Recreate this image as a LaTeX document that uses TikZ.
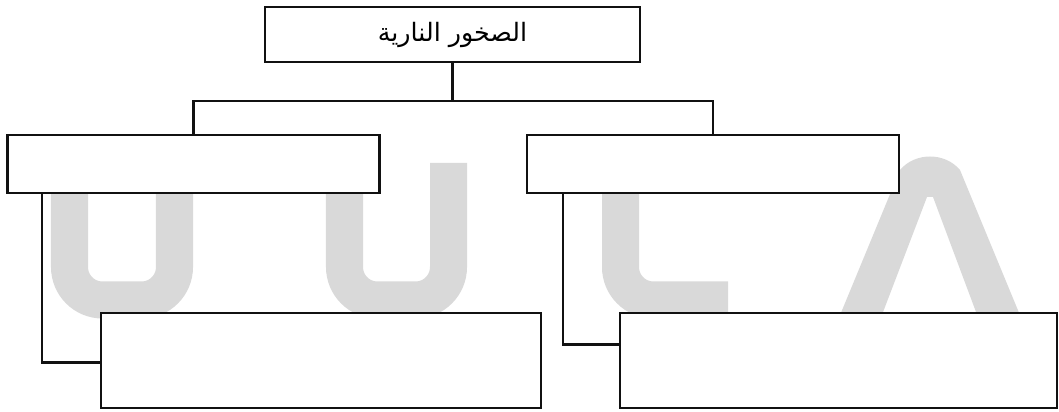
\documentclass[tikz,border=0pt]{standalone}
\usepackage{fontspec}
\usepackage{tikz}
\usetikzlibrary{positioning, calc}
\newfontfamily\arabicfont[Script=Arabic]{DejaVu Sans}
\TeXXeTstate=1
\definecolor{markGray}{HTML}{D9D9D9}
\definecolor{boxLine}{HTML}{111111}
\tikzset{
  rockbox/.style={rectangle, draw=boxLine, line width=1.5pt, fill=white,
    align=center, inner sep=2pt},
  wideslot/.style={rockbox, minimum width=9.3cm, minimum height=1.45cm},
  lowslot/.style={rockbox, minimum width=11cm, minimum height=2.375cm},
  link/.style={draw=boxLine, line width=1.5pt},
  markstroke/.style={draw=markGray, line width=0.925cm, rounded corners=0.825cm},
}

\begin{document}
\begin{tikzpicture}[x=0.025cm, y=-0.025cm]
    \useasboundingbox (0,0) rectangle (1059,412);
    % watermark letters behind the boxes
    \draw[markstroke] (69.5,163) -- (69.5,300) -- (174.5,300) -- (174.5,163);
    \draw[markstroke] (344.5,163) -- (344.5,300) -- (448.5,300) -- (448.5,163);
    \draw[markstroke] (620.5,163) -- (620.5,300) -- (728,300);
    \fill[markGray] (838,320) -- (900,170) .. controls (915,152) and (945,152) .. (960,170)
      -- (1022,320) -- (979,320) -- (933,197) -- (927,197) -- (880,320) -- cycle;
    % boxes
    \node[rockbox, minimum width=9.375cm, minimum height=1.375cm,
          font=\fontsize{18}{21}\selectfont\arabicfont]
      (igneous) at (452.5,34.5) {\beginR الصخور النارية\endR};
    \node[wideslot] (left) at (193.5,164) {};
    \node[wideslot] (right) at (713,164) {};
    \node[lowslot] (leftsub) at (321,360.5) {};
    \node[lowslot, minimum width=10.925cm] (rightsub) at (838.5,360.5) {};
    % connectors
    \coordinate (bus) at (452.5,101);
    \draw[link] (igneous) -- (bus);
    \draw[link] (left.north) |- (bus) -| (right.north);
    \draw[link] ([xshift=0.9cm]left.south west) |- ([yshift=-0.05cm]leftsub.west);
    \draw[link] ([xshift=0.925cm]right.south west) |- ([yshift=0.4cm]rightsub.west);
  \end{tikzpicture}
\end{document}
